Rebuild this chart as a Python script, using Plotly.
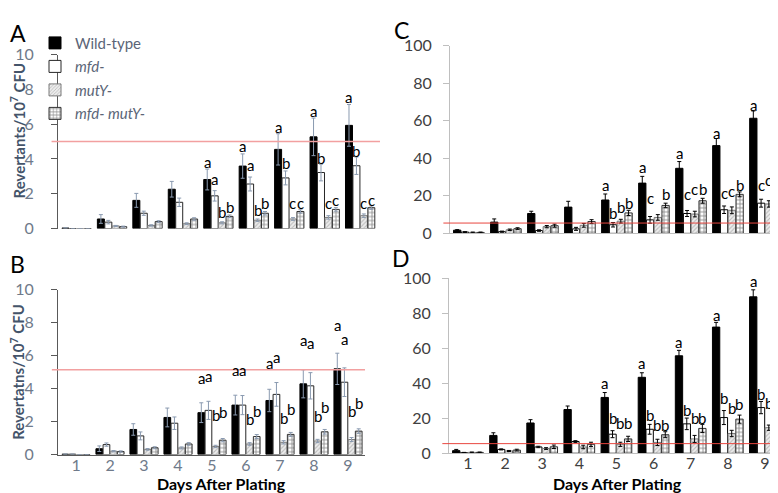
import plotly.graph_objects as go

days = [1, 2, 3, 4, 5, 6, 7, 8, 9]
series_names = ["Wild-type", "<i>mfd-</i>", "<i>mutY-</i>", "<i>mfd- mutY-</i>"]

A_vals = [
    [0.03, 0.55, 1.62, 2.26, 2.82, 3.59, 4.55, 5.27, 5.93],
    [0.0, 0.37, 0.88, 1.51, 1.88, 2.56, 2.91, 3.22, 3.61],
    [0.0, 0.15, 0.18, 0.28, 0.33, 0.48, 0.55, 0.64, 0.74],
    [0.0, 0.11, 0.40, 0.55, 0.70, 0.88, 0.98, 1.10, 1.20],
]
A_errs = [
    [0.0, 0.25, 0.40, 0.45, 0.60, 0.70, 0.90, 1.08, 1.20],
    [0.0, 0.10, 0.12, 0.24, 0.30, 0.40, 0.40, 0.48, 0.50],
    [0.0, 0.03, 0.04, 0.05, 0.06, 0.07, 0.08, 0.10, 0.10],
    [0.0, 0.03, 0.05, 0.07, 0.08, 0.10, 0.10, 0.10, 0.10],
]
A_letters = [
    ["", "", "", "", "a", "a", "a", "a", "a"],
    ["", "", "", "", "a", "a", "b", "b", "b"],
    ["", "", "", "", "b", "b", "c", "c", "c"],
    ["", "", "", "", "b", "b", "c", "c", "c"],
]
A_letter_y = [
    [0, 0, 0, 0, 3.83, 4.75, 5.82, 6.78, 7.55],
    [0, 0, 0, 0, 2.82, 3.65, 3.79, 4.05, 4.48],
    [0, 0, 0, 0, 0.98, 1.07, 1.44, 1.44, 1.47],
    [0, 0, 0, 0, 1.25, 1.47, 1.47, 1.62, 1.66],
]

B_vals = [
    [0.02, 0.35, 1.52, 2.25, 2.54, 3.00, 3.28, 4.29, 5.20],
    [0.02, 0.60, 1.13, 1.90, 2.68, 3.00, 3.65, 4.17, 4.39],
    [0.0, 0.20, 0.31, 0.40, 0.49, 0.64, 0.74, 0.82, 0.91],
    [0.0, 0.18, 0.41, 0.64, 0.87, 1.09, 1.22, 1.38, 1.42],
]
B_errs = [
    [0.0, 0.17, 0.35, 0.57, 0.60, 0.60, 0.68, 0.85, 0.95],
    [0.0, 0.10, 0.24, 0.38, 0.55, 0.58, 0.72, 0.80, 0.87],
    [0.0, 0.04, 0.05, 0.06, 0.07, 0.08, 0.10, 0.10, 0.12],
    [0.0, 0.04, 0.06, 0.08, 0.10, 0.12, 0.12, 0.14, 0.14],
]
B_letters = [
    ["", "", "", "", "a", "a", "a", "a", "a"],
    ["", "", "", "", "a", "a", "a", "a", "a"],
    ["", "", "", "", "b", "b", "b", "b", "b"],
    ["", "", "", "", "b", "b", "b", "b", "b"],
]
B_letter_y = [
    [0, 0, 0, 0, 4.62, 5.15, 5.55, 6.95, 7.88],
    [0, 0, 0, 0, 4.78, 5.15, 5.94, 6.76, 6.99],
    [0, 0, 0, 0, 2.39, 2.16, 2.23, 2.35, 2.62],
    [0, 0, 0, 0, 2.58, 2.62, 2.78, 2.91, 3.13],
]

C_vals = [
    [1.7, 6.0, 10.6, 14.0, 17.8, 26.8, 34.7, 46.8, 61.4],
    [0.7, 0.9, 1.5, 2.4, 4.6, 7.2, 10.6, 12.6, 16.1],
    [0.5, 1.9, 3.6, 4.3, 6.5, 8.5, 10.3, 12.3, 15.7],
    [0.5, 2.5, 4.1, 6.3, 10.9, 14.9, 17.4, 20.8, 24.6],
]
C_errs = [
    [0.3, 1.7, 1.2, 3.1, 3.2, 3.6, 3.6, 3.8, 3.9],
    [0.2, 0.3, 0.4, 0.8, 1.2, 1.8, 1.6, 2.0, 2.1],
    [0.2, 0.4, 0.6, 1.0, 1.0, 1.5, 1.5, 1.8, 1.7],
    [0.2, 0.5, 0.8, 1.0, 1.4, 1.2, 1.3, 1.3, 1.4],
]
C_letters = [
    ["", "", "", "", "a", "a", "a", "a", "a"],
    ["", "", "", "", "b", "c", "c", "c", "c"],
    ["", "", "", "", "b", "", "c", "c", "c"],
    ["", "", "", "", "b", "b", "b", "b", "b"],
]
C_letter_y = [
    [0, 0, 0, 0, 25.6, 35.4, 43.1, 53.7, 68.7],
    [0, 0, 0, 0, 10.9, 18.8, 21.2, 21.7, 26.0],
    [0, 0, 0, 0, 14.0, 0, 23.4, 22.6, 28.5],
    [0, 0, 0, 0, 16.1, 20.9, 23.4, 26.0, 30.6],
]

D_vals = [
    [1.5, 10.2, 17.3, 25.0, 31.9, 43.4, 55.7, 72.1, 89.4],
    [0.3, 2.2, 3.6, 6.7, 10.9, 13.7, 16.8, 20.4, 26.1],
    [0.5, 1.3, 2.7, 3.6, 5.1, 6.2, 8.2, 11.3, 14.6],
    [0.5, 1.8, 3.7, 5.1, 8.2, 10.6, 14.2, 19.5, 24.1],
]
D_errs = [
    [0.7, 1.5, 1.9, 2.0, 2.8, 2.6, 3.1, 2.7, 4.0],
    [0.2, 0.3, 0.4, 0.5, 2.0, 2.8, 3.3, 4.0, 3.5],
    [0.2, 0.3, 0.5, 1.0, 1.2, 1.8, 2.0, 1.8, 1.5],
    [0.2, 0.5, 1.0, 1.2, 1.5, 1.7, 2.3, 2.3, 2.6],
]
D_letters = [
    ["", "", "", "", "a", "a", "a", "a", "a"],
    ["", "", "", "", "b", "b", "b", "b", "b"],
    ["", "", "", "", "b", "b", "b", "b", "b"],
    ["", "", "", "", "b", "b", "b", "b", "b"],
]
D_letter_y = [
    [0, 0, 0, 0, 40.1, 51.6, 63.3, 78.8, 98.2],
    [0, 0, 0, 0, 20.1, 21.9, 24.6, 31.6, 34.1],
    [0, 0, 0, 0, 17.3, 16.4, 20.1, 25.9, 28.8],
    [0, 0, 0, 0, 17.3, 16.4, 20.1, 28.3, 34.1],
]

thresholds = {"A": 5.0, "B": 5.15, "C": 5.5, "D": 5.5}

W, H = 778, 493
BARGAP = 0.16
GROUPGAP = 0.06

def px_x(p):
    return p / W

def px_y(p):
    return 1 - p / H

panels = [
    ("A", A_vals, A_errs, A_letters, A_letter_y, "", "#8a9ab0", True),
    ("B", B_vals, B_errs, B_letters, B_letter_y, "2", "#8a9ab0", True),
    ("C", C_vals, C_errs, C_letters, C_letter_y, "3", "#000000", False),
    ("D", D_vals, D_errs, D_letters, D_letter_y, "4", "#000000", False),
]

def bar_style(i, dark):
    outline = "#262626" if dark else "#000000"
    if i == 0:
        return dict(color="#000000", line=dict(color="#000000", width=1))
    if i == 1:
        return dict(color="#ffffff", line=dict(color=outline, width=1))
    if i == 2:
        return dict(color="#e2e2e2", line=dict(color="#7a7a7a", width=1),
                    pattern=dict(shape="/", fgcolor="#8c8c8c", bgcolor="#ececec",
                                 size=3, solidity=0.35))
    return dict(color="#ffffff", line=dict(color="#333333", width=1),
                pattern=dict(shape="+", fgcolor="#1a1a1a", bgcolor="#ffffff",
                             size=4, solidity=0.4))

fig = go.Figure()
annotations = []
group_w = 1 - BARGAP
for key, vals, errs, letters, ly, sfx, ecol, dark in panels:
    for i in range(4):
        fig.add_trace(go.Bar(
            x=days, y=vals[i], name=series_names[i],
            marker=bar_style(i, dark),
            error_y=dict(type="data", array=errs[i], color=ecol, thickness=1, width=2),
            xaxis="x" + sfx, yaxis="y" + sfx,
            showlegend=(key == "A"), legendgroup="s%d" % i,
        ))
        offset = (i - 1.5) * group_w / 4
        for d, lab, yy in zip(days, letters[i], ly[i]):
            if lab:
                annotations.append(dict(
                    x=d + offset, y=yy, xref="x" + sfx, yref="y" + sfx,
                    text=lab, showarrow=False, xanchor="center", yanchor="middle",
                    borderpad=0,
                    font=dict(size=15, color="#000000", family="Lato, sans-serif")))

shapes = []
for key, sfx, col, wid in [("A", "", "#f2a0a0", 1.5), ("B", "2", "#f2a0a0", 1.5),
                           ("C", "3", "#e8463f", 1), ("D", "4", "#e8463f", 1)]:
    shapes.append(dict(type="line", xref="x" + sfx + " domain", yref="y" + sfx,
                       x0=-0.02, x1=1.0, y0=thresholds[key], y1=thresholds[key],
                       line=dict(color=col, width=wid), layer="above"))

grayA = "#6f7a8a"
axis_dark = "#595959"
axis_light = "#bfbfbf"

def yax(domain, rng, dtick, tickcol, linecol, anchor, standoff):
    return dict(domain=domain, range=rng, dtick=dtick, showgrid=False, zeroline=False,
                showline=True, linecolor=linecol, linewidth=1, ticks="outside",
                ticklen=6, tickcolor=linecol, tickfont=dict(size=16, color=tickcol),
                ticklabelstandoff=standoff, anchor=anchor, fixedrange=True)

def xax(domain, rng, showlabels, tickcol, linecol, showline, anchor):
    return dict(domain=domain, range=rng, tickvals=days, showgrid=False, zeroline=False,
                showline=showline, linecolor=linecol, linewidth=1, ticks="",
                showticklabels=showlabels, tickfont=dict(size=16, color=tickcol),
                ticklabelstandoff=-4, anchor=anchor, fixedrange=True)

fig.update_layout(
    width=W, height=H, margin=dict(l=0, r=0, t=0, b=0),
    paper_bgcolor="white", plot_bgcolor="white",
    barmode="group", bargap=BARGAP, bargroupgap=GROUPGAP,
    font=dict(family="Lato, sans-serif"),
    xaxis=xax([px_x(50), px_x(372)], [0.475, 9.56], False, grayA, axis_dark, False, "y"),
    yaxis=yax([px_y(219), px_y(38)], [0, 10], 2, grayA, axis_dark, "x", 14),
    xaxis2=xax([px_x(50), px_x(357)], [0.47, 9.5], True, grayA, axis_dark, True, "y2"),
    yaxis2=yax([px_y(454), px_y(282.7)], [0, 10], 2, grayA, axis_dark, "x2", 14),
    xaxis3=xax([px_x(442), px_x(774)], [0.49, 9.46], False, "#404040", axis_light, True, "y3"),
    yaxis3=yax([px_y(224), px_y(29)], [0, 100], 20, "#404040", axis_light, "x3", 8),
    xaxis4=xax([px_x(441), px_x(774)], [0.49, 9.46], True, "#404040", axis_light, True, "y4"),
    yaxis4=yax([px_y(452.7), px_y(270.7)], [0, 100], 20, "#404040", axis_light, "x4", 8),
    legend=dict(x=px_x(27), y=px_y(9), xanchor="left", yanchor="top",
                bgcolor="rgba(0,0,0,0)", font=dict(size=15, color="#5b6577"),
                tracegroupgap=1, itemwidth=30),
    shapes=shapes,
)

title_font = dict(size=15, color="#44546a", family="Lato, sans-serif")
annotations += [
    dict(x=px_x(10), y=px_y(117), xref="paper", yref="paper", textangle=-90,
         xanchor="center", yanchor="middle",
         text="<b>Revertants/10<sup>7</sup> CFU</b>", showarrow=False, font=title_font),
    dict(x=px_x(10), y=px_y(368), xref="paper", yref="paper", textangle=-90,
         xanchor="center", yanchor="middle",
         text="<b>Revertatns/10<sup>7</sup> CFU</b>", showarrow=False, font=title_font),
    dict(x=px_x(213), y=px_y(484), xref="paper", yref="paper",
         xanchor="center", yanchor="middle",
         text="<b>Days After Plating</b>", showarrow=False,
         font=dict(size=16, color="#000000", family="Lato, sans-serif")),
    dict(x=px_x(609), y=px_y(484), xref="paper", yref="paper",
         xanchor="center", yanchor="middle",
         text="<b>Days After Plating</b>", showarrow=False,
         font=dict(size=16, color="#000000", family="Lato, sans-serif")),
]
for lab, x, y in [("A", 10, 16), ("B", 9, 256), ("C", 393, 12), ("D", 393, 250)]:
    annotations.append(dict(x=px_x(x), y=px_y(y), xref="paper", yref="paper", text=lab,
                            xanchor="center", yanchor="middle", showarrow=False,
                            font=dict(size=23, color="#000000", family="Lato, sans-serif")))
fig.update_layout(annotations=annotations)

fig.write_html("out.html")
